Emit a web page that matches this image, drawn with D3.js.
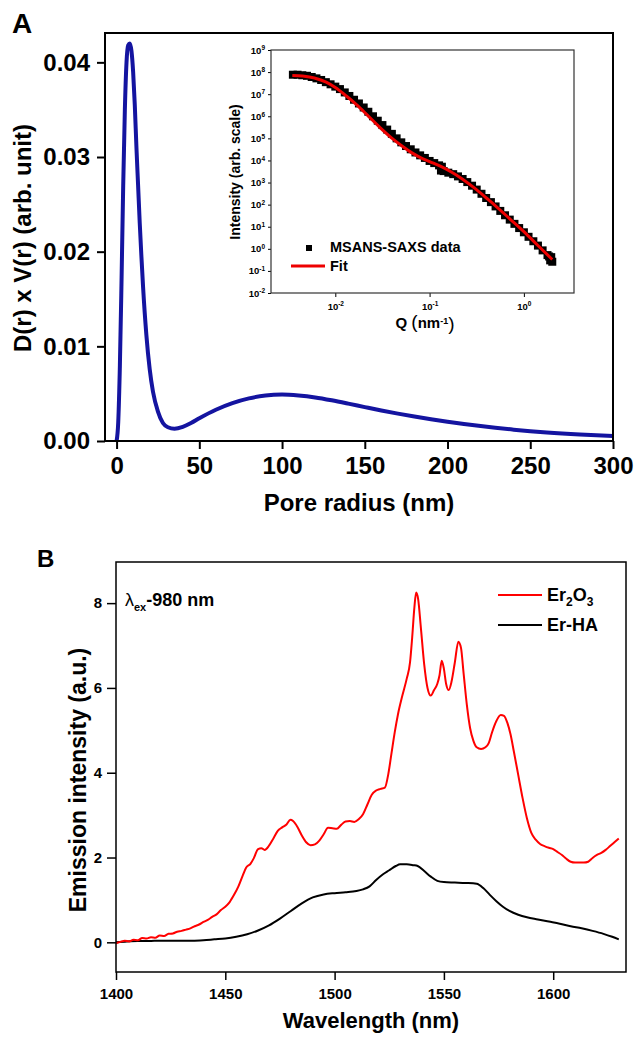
<!DOCTYPE html>
<html>
<head>
<meta charset="utf-8">
<script src="https://cdn.jsdelivr.net/npm/d3@7"></script>
<style>
  body { margin: 0; background: #fff; }
  svg text { font-family: "Liberation Sans", Arial, sans-serif; font-weight: bold; fill: #000; }
</style>
</head>
<body>
<svg id="chart" width="636" height="1040"></svg>
<script>
// ---------- Panel A: pore size distribution ----------
const poreRadius = [0, 1, 2, 3, 4, 5, 6, 7, 8, 9, 10, 11, 12, 13, 14, 15, 16, 18, 20, 22, 25, 28, 31, 35, 40, 45, 50,
  60, 70, 80, 90, 100, 110, 120, 130, 140, 150, 160, 170, 180, 190, 200, 220, 240, 260, 280, 300];
const poreVolume = [0, 0.002, 0.008, 0.017, 0.027, 0.035, 0.040, 0.0418, 0.042, 0.0412, 0.039, 0.0355, 0.031, 0.027,
  0.023, 0.0195, 0.0163, 0.0112, 0.0076, 0.0052, 0.0031, 0.0019, 0.00145, 0.0013, 0.0015, 0.0019, 0.0024,
  0.0033, 0.0040, 0.0045, 0.0048, 0.0049, 0.0048, 0.0046, 0.0043, 0.00395, 0.00358, 0.00322, 0.00289, 0.00258,
  0.00230, 0.00204, 0.00158, 0.00120, 0.00090, 0.00068, 0.00052];
const poreXTicks = [0, 50, 100, 150, 200, 250, 300];
const poreYTicks = [0, 0.01, 0.02, 0.03, 0.04];

// Inset: scattering curve (MSANS + SAXS) and its fit
const scatQ = [0.00355, 0.00398, 0.00447, 0.00501, 0.00562, 0.00631, 0.00708, 0.00794, 0.00891, 0.0100,
  0.0112, 0.0126, 0.0141, 0.0158, 0.0178, 0.0200, 0.0224, 0.0251, 0.0282, 0.0316, 0.0355, 0.0398, 0.0447,
  0.0501, 0.0562, 0.0631, 0.0708, 0.0794, 0.0891, 0.100, 0.112, 0.126, 0.135,
  0.132, 0.141, 0.158, 0.178, 0.200, 0.224, 0.251, 0.282, 0.316, 0.355, 0.398, 0.447, 0.501, 0.562, 0.631,
  0.708, 0.794, 0.891, 1.00, 1.12, 1.26, 1.41, 1.58, 1.78, 1.85, 1.90, 1.95, 2.00];
const scatI = [7.6e7, 7.6e7, 7.2e7, 6.8e7, 6.0e7, 5.2e7, 4.4e7, 3.5e7, 2.8e7, 2.2e7,
  1.7e7, 1.2e7, 8.3e6, 5.6e6, 3.8e6, 2.5e6, 1.6e6, 1.0e6, 6.3e5, 4.0e5, 2.5e5, 1.6e5, 1.0e5,
  6.6e4, 4.5e4, 3.2e4, 2.3e4, 1.7e4, 1.3e4, 9.5e3, 7.6e3, 6.0e3, 5.2e3,
  3.5e3, 3.3e3, 2.8e3, 2.4e3, 1.9e3, 1.45e3, 1.05e3, 7.2e2, 4.8e2, 3.1e2, 2.0e2, 1.3e2, 83, 52, 33,
  21, 13.5, 8.7, 5.6, 3.5, 2.2, 1.4, 0.85, 0.52, 0.45, 0.30, 0.42, 0.26];
const fitQ = [0.0035, 0.0045, 0.006, 0.008, 0.01, 0.013, 0.017, 0.022, 0.03, 0.04, 0.05, 0.065, 0.08, 0.1,
  0.13, 0.17, 0.22, 0.3, 0.4, 0.5, 0.7, 1.0, 1.4, 2.0];
const fitI = [7.1e7, 6.6e7, 5.4e7, 3.5e7, 2.0e7, 8.5e6, 3.2e6, 1.1e6, 3.0e5, 1.0e5, 4.8e4, 2.2e4, 1.35e4, 8.9e3,
  5.5e3, 3.0e3, 1.5e3, 5.6e2, 2.0e2, 89, 24, 6.0, 1.45, 0.33];
const scatQTicks = [0.01, 0.1, 1];
const scatITicks = [1e-2, 1e-1, 1e0, 1e1, 1e2, 1e3, 1e4, 1e5, 1e6, 1e7, 1e8, 1e9];

// ---------- Panel B: emission spectra ----------
const erOxWl = [1400, 1402, 1404, 1406, 1408, 1410, 1412, 1414, 1416, 1418, 1420, 1422, 1424, 1426, 1428, 1430,
  1432, 1434, 1436, 1438, 1440, 1442, 1444, 1446, 1448, 1450, 1452, 1454, 1456, 1458, 1459.5, 1461.5, 1463,
  1465, 1466.5, 1468, 1470, 1472, 1474, 1476, 1478, 1479.8, 1481, 1483, 1485, 1487, 1489, 1491, 1493, 1495,
  1497, 1499, 1501, 1503, 1505, 1507, 1509, 1511, 1513, 1515, 1517, 1519, 1521, 1523, 1524.6, 1526, 1527.5,
  1529, 1531, 1533, 1534.5, 1535.5, 1536.5, 1537.3, 1538.2, 1539.5, 1541, 1542.5, 1544, 1545.5, 1547, 1548,
  1549, 1550, 1551, 1552.2, 1553.5, 1555, 1556.6, 1557.8, 1559, 1560.5, 1562, 1563.5, 1565, 1567, 1569, 1570.5,
  1572, 1574, 1576, 1577.5, 1579, 1580.5, 1582, 1584, 1586, 1588, 1590, 1592, 1594, 1596, 1598, 1600, 1602,
  1604, 1606, 1608, 1610, 1612, 1614, 1616, 1618, 1620, 1622, 1624, 1626, 1628, 1630];
const erOxI = [-0.02, 0.01, 0.04, 0.02, 0.06, 0.05, 0.10, 0.09, 0.12, 0.11, 0.16, 0.15, 0.20, 0.21, 0.25, 0.27,
  0.30, 0.33, 0.38, 0.42, 0.48, 0.53, 0.60, 0.66, 0.76, 0.84, 0.95, 1.12, 1.32, 1.58, 1.76, 1.85, 1.98,
  2.20, 2.22, 2.18, 2.28, 2.45, 2.63, 2.71, 2.78, 2.89, 2.86, 2.72, 2.52, 2.36, 2.29, 2.31, 2.40, 2.55,
  2.70, 2.69, 2.68, 2.77, 2.85, 2.86, 2.84, 2.90, 3.02, 3.25, 3.48, 3.58, 3.62, 3.65, 3.98, 4.45, 4.95,
  5.38, 5.82, 6.22, 6.60, 7.20, 7.90, 8.25, 8.10, 7.40, 6.55, 6.00, 5.82, 5.95, 6.10, 6.30,
  6.64, 6.45, 6.10, 5.95, 6.15, 6.60, 7.09, 6.95, 6.35, 5.60, 5.05, 4.75, 4.60, 4.56, 4.60, 4.70,
  4.95, 5.22, 5.36, 5.34, 5.18, 4.90, 4.50, 3.95, 3.40, 2.92, 2.58, 2.42, 2.32, 2.27, 2.23, 2.20, 2.13,
  2.06, 1.97, 1.90, 1.88, 1.88, 1.88, 1.90, 1.99, 2.06, 2.11, 2.18, 2.27, 2.36, 2.45];
const erHaWl = [1400, 1405, 1410, 1415, 1420, 1425, 1430, 1435, 1440, 1445, 1450, 1455, 1460, 1465, 1470, 1475,
  1480, 1485, 1490, 1495, 1500, 1505, 1510, 1513, 1516, 1519, 1522, 1525, 1528, 1530, 1533, 1536, 1538, 1541,
  1544, 1547, 1550, 1555, 1560, 1565, 1568, 1571, 1574, 1577, 1580, 1584, 1588, 1593, 1598, 1603, 1608, 1613,
  1618, 1623, 1627, 1630];
const erHaI = [0.00, 0.02, 0.03, 0.03, 0.04, 0.04, 0.04, 0.04, 0.05, 0.07, 0.09, 0.13, 0.19, 0.28, 0.40, 0.56,
  0.74, 0.92, 1.06, 1.13, 1.16, 1.18, 1.21, 1.25, 1.32, 1.47, 1.60, 1.70, 1.80, 1.84, 1.84, 1.82, 1.80, 1.68,
  1.55, 1.45, 1.42, 1.41, 1.40, 1.38, 1.28, 1.12, 0.97, 0.84, 0.74, 0.65, 0.59, 0.54, 0.49, 0.44, 0.38, 0.33,
  0.27, 0.20, 0.13, 0.07];
const wlTicks = [1400, 1450, 1500, 1550, 1600];
const emTicks = [0, 2, 4, 6, 8];

const svg = d3.select("#chart");

function styleAxis(g, fontSize, strokeW) {
  g.select(".domain").remove();
  g.attr("font-family", null).attr("font-size", null);
  g.selectAll(".tick line").attr("stroke", "#000").attr("stroke-width", strokeW);
  g.selectAll(".tick text").attr("fill", "#000").style("font-size", fontSize + "px");
}

// ===== Panel A =====
const A = { l: 105, r: 613, t: 33, b: 441 };
const xA = d3.scaleLinear().domain([-7, 300]).range([A.l, A.r]);
const yA = d3.scaleLinear().domain([0, 0.0431]).range([A.b, A.t]);

svg.append("defs").append("clipPath").attr("id", "clipA")
  .append("rect").attr("x", A.l).attr("y", A.t).attr("width", A.r - A.l).attr("height", A.b - A.t);

svg.append("g").attr("transform", `translate(${A.l},0)`)
  .call(d3.axisLeft(yA).tickValues(poreYTicks).tickFormat(d3.format(".2f")).tickSize(8).tickPadding(7))
  .call(styleAxis, 24, 2);
svg.append("g").attr("transform", `translate(0,${A.b})`)
  .call(d3.axisBottom(xA).tickValues(poreXTicks).tickFormat(d3.format("d")).tickSize(8).tickPadding(8))
  .call(styleAxis, 24, 2);

svg.append("path")
  .datum(poreRadius.map((r, i) => [r, poreVolume[i]]))
  .attr("clip-path", "url(#clipA)")
  .attr("fill", "none").attr("stroke", "#1414a0").attr("stroke-width", 4).attr("stroke-linejoin", "round")
  .attr("d", d3.line().x(d => xA(d[0])).y(d => yA(d[1])).curve(d3.curveMonotoneX));

svg.append("rect").attr("x", A.l).attr("y", A.t).attr("width", A.r - A.l).attr("height", A.b - A.t)
  .attr("fill", "none").attr("stroke", "#000").attr("stroke-width", 2);

svg.append("text").attr("x", 12).attr("y", 33).style("font-size", "28px").text("A");
svg.append("text").attr("x", (A.l + A.r) / 2).attr("y", 511).attr("text-anchor", "middle")
  .style("font-size", "24px").text("Pore radius (nm)");
svg.append("text").attr("transform", "translate(31,238) rotate(-90)").attr("text-anchor", "middle")
  .style("font-size", "24px").text("D(r) x V(r) (arb. unit)");

// ----- Inset -----
const I = { l: 271, r: 574, t: 50, b: 293 };
const xI = d3.scaleLog().domain([0.00208, 3.4]).range([I.l, I.r]);
const yI = d3.scaleLog().domain([1e-2, 1e9]).range([I.b, I.t]);

function powerLabels(g) {
  g.selectAll(".tick text").each(function (d) {
    const t = d3.select(this).text(null);
    t.append("tspan").text("10");
    t.append("tspan").attr("dy", "-0.5em").style("font-size", "6.5px").text(Math.round(Math.log10(d)));
  });
}

svg.append("g").attr("transform", `translate(${I.l},0)`)
  .call(d3.axisLeft(yI).tickValues(scatITicks).tickSize(3).tickPadding(3))
  .call(styleAxis, 9.5, 1).call(powerLabels);
svg.append("g").attr("transform", `translate(0,${I.b})`)
  .call(d3.axisBottom(xI).tickValues(scatQTicks).tickSize(4).tickPadding(6))
  .call(styleAxis, 9.5, 1).call(powerLabels);

svg.append("g").selectAll("rect")
  .data(scatQ.map((q, i) => [q, scatI[i]]))
  .join("rect")
  .attr("x", d => xI(d[0]) - 4).attr("y", d => yI(d[1]) - 4)
  .attr("width", 8).attr("height", 8).attr("fill", "#000");

svg.append("path")
  .datum(fitQ.map((q, i) => [q, fitI[i]]))
  .attr("fill", "none").attr("stroke", "#ee0000").attr("stroke-width", 3)
  .attr("d", d3.line().x(d => xI(d[0])).y(d => yI(d[1])).curve(d3.curveMonotoneX));

svg.append("rect").attr("x", I.l).attr("y", I.t).attr("width", I.r - I.l).attr("height", I.b - I.t)
  .attr("fill", "none").attr("stroke", "#333").attr("stroke-width", 1.2);

svg.append("rect").attr("x", 306).attr("y", 245).attr("width", 6).attr("height", 6).attr("fill", "#000");
svg.append("text").attr("x", 330).attr("y", 252).style("font-size", "14.5px").text("MSANS-SAXS data");
svg.append("line").attr("x1", 291).attr("x2", 325).attr("y1", 266).attr("y2", 266)
  .attr("stroke", "#ee0000").attr("stroke-width", 3);
svg.append("text").attr("x", 330).attr("y", 271).style("font-size", "14.5px").text("Fit");

svg.append("text").attr("transform", "translate(240,172) rotate(-90)").attr("text-anchor", "middle")
  .style("font-size", "14px").text("Intensity (arb. scale)");
const qLabel = svg.append("text").attr("x", 425).attr("y", 328).attr("text-anchor", "middle").style("font-size", "15px");
qLabel.append("tspan").text("Q ");
qLabel.append("tspan").style("font-size", "19px").style("font-weight", "normal").text("(");
qLabel.append("tspan").text("nm");
qLabel.append("tspan").attr("dy", "-0.5em").style("font-size", "9px").text("-1");
qLabel.append("tspan").attr("dy", "0.33em").style("font-size", "19px").style("font-weight", "normal").text(")");

// ===== Panel B =====
const B = { l: 116, r: 626, t: 562, b: 972 };
const xB = d3.scaleLinear().domain([1400, 1633.3]).range([B.l, B.r]);
const yB = d3.scaleLinear().domain([-0.7, 8.97]).range([B.b, B.t]);

svg.append("g").attr("transform", `translate(${B.l},0)`)
  .call(d3.axisLeft(yB).tickValues(emTicks).tickFormat(d3.format("d")).tickSize(9).tickPadding(5))
  .call(styleAxis, 15, 1.5);
svg.append("g").attr("transform", `translate(0,${B.b})`)
  .call(d3.axisBottom(xB).tickValues(wlTicks).tickFormat(d3.format("d")).tickSize(8).tickPadding(8))
  .call(styleAxis, 15, 1.5);

const lineB = d3.line().x(d => xB(d[0])).y(d => yB(d[1])).curve(d3.curveMonotoneX);
svg.append("path").datum(erHaWl.map((w, i) => [w, erHaI[i]]))
  .attr("fill", "none").attr("stroke", "#000").attr("stroke-width", 2).attr("d", lineB);
svg.append("path").datum(erOxWl.map((w, i) => [w, erOxI[i]]))
  .attr("fill", "none").attr("stroke", "#ff0000").attr("stroke-width", 2).attr("d", lineB);

svg.append("rect").attr("x", B.l).attr("y", B.t).attr("width", B.r - B.l).attr("height", B.b - B.t)
  .attr("fill", "none").attr("stroke", "#000").attr("stroke-width", 1.5);

svg.append("text").attr("x", 37).attr("y", 567).style("font-size", "24px").text("B");

const lam = svg.append("text").attr("x", 125).attr("y", 606).style("font-size", "18px");
lam.append("tspan").style("font-weight", "normal").text("λ");
lam.append("tspan").attr("dy", 5).style("font-size", "11px").text("ex");
lam.append("tspan").attr("dy", -5).text("-980 nm");

// legend
svg.append("line").attr("x1", 498).attr("x2", 542).attr("y1", 595).attr("y2", 595)
  .attr("stroke", "#ff0000").attr("stroke-width", 2);
const lg1 = svg.append("text").attr("x", 547).attr("y", 601).style("font-size", "18px");
lg1.append("tspan").text("Er");
lg1.append("tspan").attr("dy", 5).style("font-size", "12px").text("2");
lg1.append("tspan").attr("dy", -5).text("O");
lg1.append("tspan").attr("dy", 5).style("font-size", "12px").text("3");
svg.append("line").attr("x1", 498).attr("x2", 542).attr("y1", 625).attr("y2", 625)
  .attr("stroke", "#000").attr("stroke-width", 2);
svg.append("text").attr("x", 547).attr("y", 631).style("font-size", "18px").text("Er-HA");

svg.append("text").attr("x", (B.l + B.r) / 2).attr("y", 1028).attr("text-anchor", "middle")
  .style("font-size", "22px").text("Wavelength (nm)");
svg.append("text").attr("transform", "translate(86,780) rotate(-90)").attr("text-anchor", "middle")
  .style("font-size", "23px").text("Emission intensity (a.u.)");
</script>
</body>
</html>
